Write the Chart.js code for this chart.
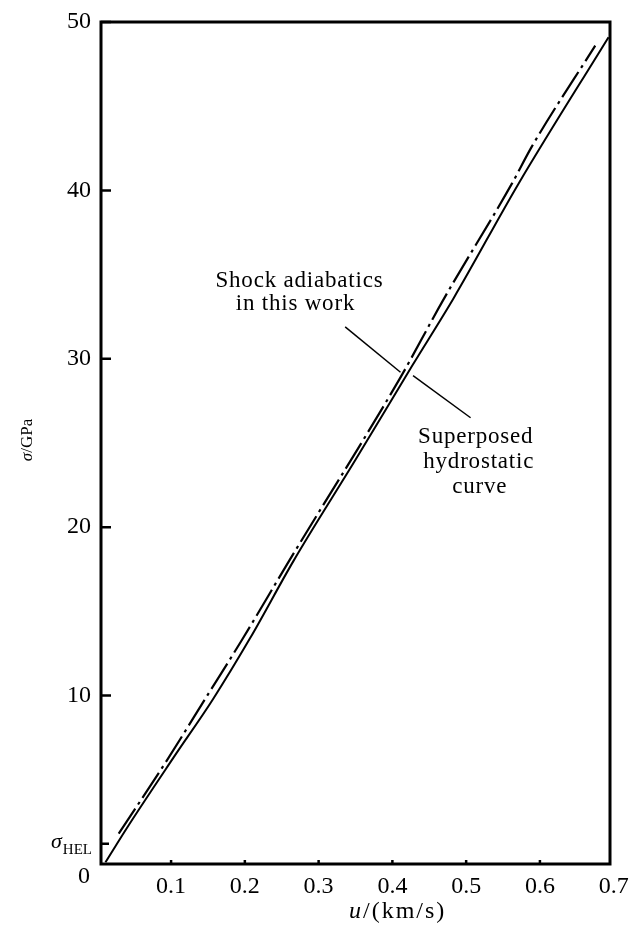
<!DOCTYPE html>
<html>
<head>
<meta charset="utf-8">
<script src="https://cdn.jsdelivr.net/npm/chart.js@4.4.1/dist/chart.umd.min.js"></script>
<style>
  html, body { margin: 0; padding: 0; background: #fff; }
  #wrap { width: 633px; height: 925px; position: relative; }
</style>
</head>
<body>
<div id="wrap"><canvas id="c"></canvas></div>
<script>
// superposed hydrostatic curve (solid)
const uHydro = [0.011, 0.041, 0.103, 0.157, 0.207, 0.266, 0.350, 0.427, 0.483, 0.571, 0.693];
const sigmaHydro = [0.1, 2.2, 6.3, 9.8, 13.4, 18.0, 24.0, 29.6, 33.6, 40.4, 49.1];

// shock adiabatics in this work (dash-dot)
const uShock = [0.029, 0.095, 0.149, 0.196, 0.260, 0.411, 0.469, 0.562, 0.589, 0.675];
const sigmaShock = [1.8, 6.2, 10.0, 13.3, 18.0, 28.9, 33.5, 40.4, 42.6, 48.6];

// leader lines for the two labels
const uLeaderShock = [0.336, 0.411];
const sigmaLeaderShock = [31.9, 29.2];
const uLeaderHydro = [0.428, 0.506];
const sigmaLeaderHydro = [29.0, 26.5];

const xTickValues = [0.1, 0.2, 0.3, 0.4, 0.5, 0.6, 0.7];
const yTickValues = [10, 20, 30, 40, 50];
const sigmaHEL = 1.2;

const serif = '"Liberation Serif", "Times New Roman", serif';

function pts(xs, ys) {
  return xs.map((v, i) => ({ x: v, y: ys[i] }));
}

const decor = {
  id: 'decor',
  afterDraw(chart) {
    const { ctx, chartArea: a, scales: { x, y } } = chart;
    ctx.save();
    ctx.strokeStyle = '#000';
    ctx.fillStyle = '#000';

    // frame
    ctx.lineWidth = 3;
    ctx.strokeRect(a.left, a.top, a.right - a.left, a.bottom - a.top);

    // inward ticks
    ctx.lineWidth = 2.5;
    ctx.beginPath();
    yTickValues.concat([sigmaHEL]).forEach(v => {
      const py = y.getPixelForValue(v);
      ctx.moveTo(a.left, py);
      ctx.lineTo(a.left + (v === sigmaHEL ? 8 : 10), py);
    });
    xTickValues.forEach(v => {
      if (v >= x.max) return;
      const px = x.getPixelForValue(v);
      ctx.moveTo(px, a.bottom);
      ctx.lineTo(px, a.bottom - 4);
    });
    ctx.stroke();

    // σHEL label
    const py = y.getPixelForValue(sigmaHEL);
    ctx.textBaseline = 'alphabetic';
    ctx.textAlign = 'right';
    ctx.font = '15px ' + serif;
    const helW = ctx.measureText('HEL').width;
    ctx.fillText('HEL', a.left - 9, py + 10);
    ctx.font = 'italic 22px ' + serif;
    ctx.fillText('σ', a.left - 9 - helW - 1, py + 4);

    // origin label
    ctx.textAlign = 'center';
    ctx.font = '24px ' + serif;
    ctx.fillText('0', a.left - 17, a.bottom + 19);

    // x title
    ctx.textAlign = 'left';
    ctx.letterSpacing = '2px';
    ctx.font = 'italic 24px ' + serif;
    let tx = 349;
    ctx.fillText('u', tx, 918);
    tx += ctx.measureText('u').width;
    ctx.font = '24px ' + serif;
    ctx.fillText('/(km/s)', tx, 918);
    ctx.letterSpacing = '0px';

    // y title
    ctx.save();
    ctx.translate(32, 440);
    ctx.rotate(-Math.PI / 2);
    ctx.font = 'italic 17px ' + serif;
    const sw = ctx.measureText('σ').width;
    ctx.font = '17px ' + serif;
    const rw = ctx.measureText('/GPa').width;
    const sx = -(sw + rw) / 2;
    ctx.textAlign = 'left';
    ctx.font = 'italic 17px ' + serif;
    ctx.fillText('σ', sx, 0);
    ctx.font = '17px ' + serif;
    ctx.fillText('/GPa', sx + sw, 0);
    ctx.restore();

    // curve labels
    ctx.textAlign = 'center';
    ctx.font = '23px ' + serif;
    ctx.letterSpacing = '0.8px';
    const lx1 = x.getPixelForValue(0.274), ly1 = y.getPixelForValue(34.26);
    ctx.fillText('Shock adiabatics', lx1, ly1);
    ctx.fillText('in this work', lx1 - 4, ly1 + 23);
    const lx2 = x.getPixelForValue(0.513), ly2 = y.getPixelForValue(25.0);
    ctx.fillText('Superposed', lx2, ly2);
    ctx.fillText('hydrostatic', lx2 + 3, ly2 + 25);
    ctx.fillText('curve', lx2 + 4, ly2 + 50);
    ctx.letterSpacing = '0px';

    ctx.restore();
  }
};

new Chart(document.getElementById('c'), {
  type: 'line',
  data: {
    datasets: [
      {
        label: 'Superposed hydrostatic curve',
        data: pts(uHydro, sigmaHydro),
        borderColor: '#000',
        borderWidth: 2,
        pointRadius: 0,
        cubicInterpolationMode: 'monotone'
      },
      {
        label: 'Shock adiabatics in this work',
        data: pts(uShock, sigmaShock),
        borderColor: '#000',
        borderWidth: 2.2,
        borderDash: [30, 5, 3, 5],
        pointRadius: 0,
        cubicInterpolationMode: 'monotone'
      },
      {
        label: 'leader shock',
        data: pts(uLeaderShock, sigmaLeaderShock),
        borderColor: '#000',
        borderWidth: 1.5,
        pointRadius: 0
      },
      {
        label: 'leader hydro',
        data: pts(uLeaderHydro, sigmaLeaderHydro),
        borderColor: '#000',
        borderWidth: 1.5,
        pointRadius: 0
      }
    ]
  },
  options: {
    responsive: true,
    maintainAspectRatio: false,
    animation: false,
    devicePixelRatio: 1,
    layout: { autoPadding: false, padding: { top: 22, right: 23, left: 0, bottom: 0 } },
    plugins: {
      legend: { display: false },
      tooltip: { enabled: false }
    },
    scales: {
      x: {
        type: 'linear',
        min: 0.005,
        max: 0.695,
        afterBuildTicks: s => { s.ticks = xTickValues.map(v => ({ value: v })); },
        afterFit: s => { s.height = 61; s.paddingLeft = 0; s.paddingRight = 0; },
        grid: { display: false, drawTicks: false },
        border: { display: false },
        ticks: {
          autoSkip: false,
          maxRotation: 0,
          padding: 8,
          color: '#000',
          font: { family: serif, size: 24 },
          callback: v => v.toFixed(1)
        }
      },
      y: {
        type: 'linear',
        min: 0,
        max: 50,
        afterBuildTicks: s => { s.ticks = yTickValues.map(v => ({ value: v })); },
        afterFit: s => { s.width = 101; s.paddingTop = 0; s.paddingBottom = 0; },
        grid: { display: false, drawTicks: false },
        border: { display: false },
        ticks: {
          autoSkip: false,
          padding: 10,
          color: '#000',
          font: { family: serif, size: 24 },
          callback: v => String(v)
        }
      }
    }
  },
  plugins: [decor]
});
</script>
</body>
</html>
